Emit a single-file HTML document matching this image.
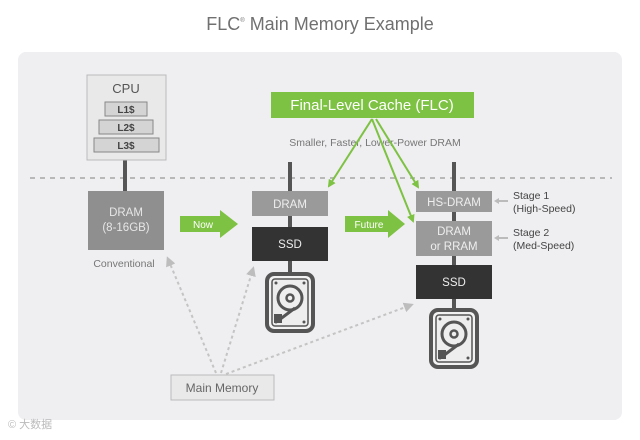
<!DOCTYPE html>
<html><head><meta charset="utf-8"><style>
body{margin:0;width:640px;height:435px;background:#fff;overflow:hidden;font-family:"Liberation Sans",sans-serif}
</style></head><body>
<svg width="640" height="435" viewBox="0 0 640 435" xmlns="http://www.w3.org/2000/svg" font-family="Liberation Sans, sans-serif">
<defs>
<marker id="ga" markerWidth="8" markerHeight="8" refX="6" refY="4" orient="auto" markerUnits="userSpaceOnUse"><path d="M0,0 L8,4 L0,8 z" fill="#7dc242"/></marker>
<marker id="da" markerWidth="10" markerHeight="10" refX="7" refY="5" orient="auto" markerUnits="userSpaceOnUse"><path d="M0,0 L10,5 L0,10 z" fill="#bdbdbd"/></marker>
<g id="hdd">
<rect x="2" y="2" width="46" height="57" rx="7" fill="#f2f2f2" stroke="#555" stroke-width="4"/>
<rect x="7" y="7" width="36" height="47" rx="3" fill="#eee" stroke="#555" stroke-width="1.5"/>
<circle cx="11" cy="11" r="1.5" fill="#555"/><circle cx="39" cy="11" r="1.5" fill="#555"/>
<circle cx="11" cy="50" r="1.5" fill="#555"/><circle cx="39" cy="50" r="1.5" fill="#555"/>
<circle cx="25" cy="26" r="12" fill="none" stroke="#555" stroke-width="3"/>
<circle cx="25" cy="26" r="3.5" fill="none" stroke="#555" stroke-width="2.5"/>
<line x1="14" y1="48" x2="30" y2="36" stroke="#555" stroke-width="3"/>
<rect x="9" y="42" width="8" height="9" fill="#555"/>
</g>
</defs>
<text x="320" y="30" font-size="18" fill="#707070" text-anchor="middle">FLC<tspan font-size="6" dy="-8">®</tspan><tspan dy="8"> Main Memory Example</tspan></text>
<rect x="18" y="52" width="604" height="368" rx="8" fill="#efeef0"/>
<line x1="30" y1="178" x2="612" y2="178" stroke="#b8b8b8" stroke-width="2" stroke-dasharray="5,5"/>
<!-- CPU -->
<line x1="125" y1="158" x2="125" y2="192" stroke="#555" stroke-width="4"/>
<rect x="87" y="75" width="79" height="85" fill="#e9e9e9" stroke="#bbb"/>
<text x="126" y="93" font-size="13" fill="#555" text-anchor="middle">CPU</text>
<rect x="105" y="102" width="42" height="14" fill="#d4d4d4" stroke="#888"/>
<text x="126" y="113" font-size="10" font-weight="bold" fill="#444" text-anchor="middle">L1$</text>
<rect x="99" y="120" width="54" height="14" fill="#d4d4d4" stroke="#888"/>
<text x="126" y="131" font-size="10" font-weight="bold" fill="#444" text-anchor="middle">L2$</text>
<rect x="94" y="138" width="65" height="14" fill="#d4d4d4" stroke="#888"/>
<text x="126" y="149" font-size="10" font-weight="bold" fill="#444" text-anchor="middle">L3$</text>
<rect x="88" y="191" width="76" height="59" fill="#8f8f8f"/>
<text x="126" y="216" font-size="11.5" fill="#e6e6e6" text-anchor="middle">DRAM</text>
<text x="126" y="231" font-size="11.5" fill="#e6e6e6" text-anchor="middle">(8-16GB)</text>
<text x="124" y="267" font-size="10.5" fill="#777" text-anchor="middle">Conventional</text>
<!-- Now arrow -->
<path d="M180,216 H220 V210 L238,224 L220,238 V232 H180 z" fill="#7dc242"/>
<text x="203" y="228" font-size="10" fill="#fff" text-anchor="middle">Now</text>
<!-- middle column -->
<line x1="290" y1="162" x2="290" y2="278" stroke="#555" stroke-width="4"/>
<rect x="252" y="191" width="76" height="25" fill="#9a9a9a"/>
<text x="290" y="208" font-size="11.5" fill="#eee" text-anchor="middle">DRAM</text>
<rect x="252" y="227" width="76" height="34" fill="#333"/>
<text x="290" y="248" font-size="11.5" fill="#eee" text-anchor="middle">SSD</text>
<use href="#hdd" x="265" y="272"/>
<!-- Future -->
<path d="M345,216 H388 V210 L405,224 L388,238 V232 H345 z" fill="#7dc242"/>
<text x="369" y="228" font-size="10" fill="#fff" text-anchor="middle">Future</text>
<!-- right column -->
<line x1="454" y1="162" x2="454" y2="312" stroke="#555" stroke-width="4"/>
<rect x="416" y="191" width="76" height="21" fill="#9a9a9a"/>
<text x="454" y="206" font-size="11.5" fill="#eee" text-anchor="middle">HS-DRAM</text>
<rect x="416" y="221" width="76" height="35" fill="#9a9a9a"/>
<text x="454" y="235" font-size="11.5" fill="#eee" text-anchor="middle">DRAM</text>
<text x="454" y="250" font-size="11.5" fill="#eee" text-anchor="middle">or RRAM</text>
<rect x="416" y="265" width="76" height="34" fill="#333"/>
<text x="454" y="286" font-size="11.5" fill="#eee" text-anchor="middle">SSD</text>
<use href="#hdd" x="429" y="308"/>
<!-- stage labels -->
<line x1="508" y1="201" x2="497" y2="201" stroke="#bbb" stroke-width="2"/><path d="M494,201 L499,198 L499,204z" fill="#bbb"/>
<line x1="508" y1="238" x2="497" y2="238" stroke="#bbb" stroke-width="2"/><path d="M494,238 L499,235 L499,241z" fill="#bbb"/>
<text x="513" y="199" font-size="10.5" fill="#444">Stage 1</text>
<text x="513" y="212" font-size="10.5" fill="#444">(High-Speed)</text>
<text x="513" y="236" font-size="10.5" fill="#444">Stage 2</text>
<text x="513" y="249" font-size="10.5" fill="#444">(Med-Speed)</text>
<!-- FLC -->
<rect x="271" y="92" width="203" height="26" fill="#7dc242"/>
<text x="372" y="110" font-size="15" fill="#fff" text-anchor="middle">Final-Level Cache (FLC)</text>
<text x="375" y="146" font-size="10.5" fill="#777" text-anchor="middle">Smaller, Faster, Lower-Power DRAM</text>
<g stroke="#7dc242" stroke-width="2" fill="none" marker-end="url(#ga)">
<line x1="372" y1="119" x2="329" y2="186"/>
<line x1="376" y1="119" x2="418" y2="187"/>
<line x1="372" y1="119" x2="413" y2="221"/>
</g>
<!-- main memory -->
<rect x="171" y="375" width="103" height="25" fill="#e9e9e9" stroke="#bbb"/>
<text x="222" y="392" font-size="12" fill="#666" text-anchor="middle">Main Memory</text>
<g stroke="#c4c4c4" stroke-width="2" stroke-dasharray="3,3" fill="none" marker-end="url(#da)">
<line x1="216" y1="373" x2="168" y2="259"/>
<line x1="221" y1="373" x2="253" y2="269"/>
<line x1="226" y1="374" x2="411" y2="305"/>
</g>
<text x="8" y="428" font-size="11" fill="#bbb" font-family="Liberation Sans, Noto Sans CJK SC, sans-serif">© 大数据</text>
</svg>
</body></html>
